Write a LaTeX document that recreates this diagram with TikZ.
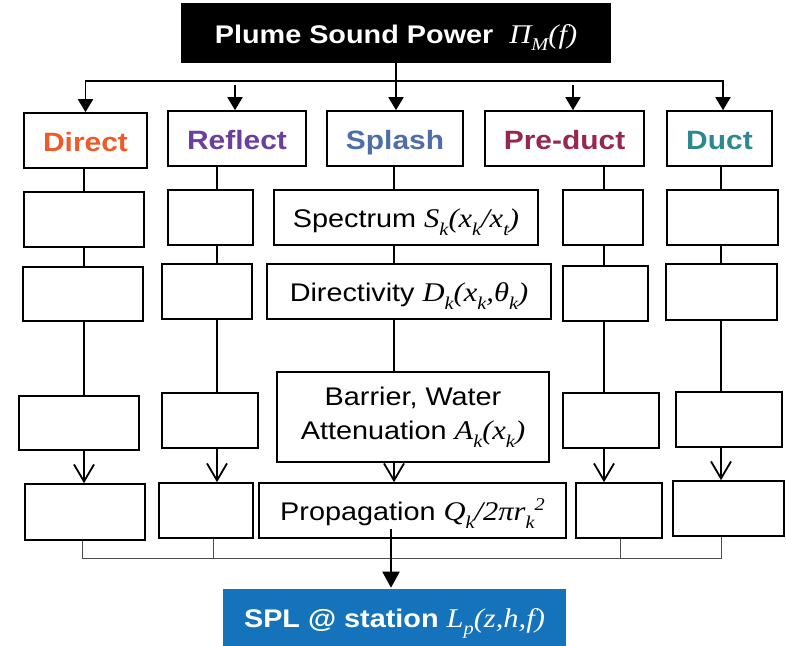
\documentclass[tikz,border=0pt]{standalone}
\usepackage{fontspec}
\setmainfont[FakeStretch=1.13]{Liberation Sans}
\newfontfamily\tms[FakeStretch=1.13]{Liberation Serif}
\usetikzlibrary{arrows.meta}
\definecolor{cdirect}{RGB}{240,90,40}
\definecolor{creflect}{RGB}{107,63,160}
\definecolor{csplash}{RGB}{79,110,168}
\definecolor{cpreduct}{RGB}{152,40,75}
\definecolor{cduct}{RGB}{44,137,143}
\definecolor{cblue}{RGB}{21,115,187}
\newcommand\mth[1]{{\tms\itshape #1}}
\newcommand\lo[1]{\raisebox{-0.28em}{\fontsize{18}{18}\selectfont #1}}
\newcommand\hi[1]{\raisebox{0.38em}{\fontsize{18}{18}\selectfont #1}}
\begin{document}
\begin{tikzpicture}[x=1pt,y=-1pt,
  box/.style={draw, line width=1.6pt, fill=white, inner sep=0pt, align=center,
    font=\fontsize{25.5}{34}\selectfont},
  one/.style={text height=22pt, text depth=2pt},
  lbl/.style={font=\fontsize{26.5}{32}\selectfont\bfseries, text height=24pt, text depth=2pt},
  conn/.style={line width=1.8pt},
  toparrow/.style={line width=1.8pt, -{Triangle[length=13pt,width=15pt]}},
  barb/.style={line width=1.8pt, -{Straight Barb[length=17pt,width=20pt]}},
  bigarrow/.style={line width=2pt, -{Triangle[length=16pt,width=17pt]}},
  gl/.style={line width=0.9pt, black!70}]
\useasboundingbox (0,0) rectangle (786,645);
% top
\node[box, one, fill=black, text=white, minimum width=428pt, minimum height=58pt,
  font=\fontsize{25.5}{30}\selectfont\bfseries] (top) at (396,33)
  {Plume Sound Power\ \ \mth{\mdseries\fontsize{27}{30}\selectfont Π\lo{M}(f)}};
% row 1
\node[box, lbl, text=cdirect,  minimum width=123pt, minimum height=55pt] (dir1) at (85.5,140.5) {Direct};
\node[box, lbl, text=creflect, minimum width=138pt, minimum height=55pt] (ref1) at (237,138.5) {Reflect};
\node[box, lbl, text=csplash,  minimum width=136pt, minimum height=55pt] (spl1) at (395,138.5) {Splash};
\node[box, lbl, text=cpreduct, minimum width=159pt, minimum height=55pt] (pre1) at (564.5,138.5) {Pre-duct};
\node[box, lbl, text=cduct,    minimum width=105pt, minimum height=55pt] (duc1) at (719.5,138.5) {Duct};
% row 2
\node[box, minimum width=120pt, minimum height=55pt] (dir2) at (84,219.5) {};
\node[box, minimum width=85pt,  minimum height=55pt] (ref2) at (210.5,217.5) {};
\node[box, one, minimum width=264pt, minimum height=55pt] (spl2) at (406,217.5)
  {Spectrum \mth{\fontsize{27}{32}\selectfont S\lo{k}(x\lo{k}/x\lo{t})}};
\node[box, minimum width=80pt,  minimum height=55pt] (pre2) at (603,217.5) {};
\node[box, minimum width=111pt, minimum height=55pt] (duc2) at (722.5,217.5) {};
% row 3
\node[box, minimum width=120pt, minimum height=54pt] (dir3) at (83,294) {};
\node[box, minimum width=90pt,  minimum height=55pt] (ref3) at (207,291.5) {};
\node[box, one, minimum width=284pt, minimum height=55pt] (spl3) at (409,291.5)
  {Directivity \mth{\fontsize{27}{32}\selectfont D\lo{k}(x\lo{k},θ\lo{k})}};
\node[box, minimum width=85pt,  minimum height=55pt] (pre3) at (605.5,293.5) {};
\node[box, minimum width=111pt, minimum height=56pt] (duc3) at (721.5,292) {};
% row 4
\node[box, minimum width=120pt, minimum height=54pt] (dir4) at (79,423) {};
\node[box, minimum width=96pt,  minimum height=55pt] (ref4) at (210,420.5) {};
\node[box, minimum width=272pt, minimum height=90pt] (spl4) at (413,417)
  {Barrier, Water\\Attenuation \mth{\fontsize{27}{32}\selectfont A\lo{k}(x\lo{k})}};
\node[box, minimum width=96pt,  minimum height=55pt] (pre4) at (611,420.5) {};
\node[box, minimum width=106pt, minimum height=55pt] (duc4) at (729,419.5) {};
% row 5
\node[box, minimum width=120pt, minimum height=56pt] (dir5) at (85,512) {};
\node[box, minimum width=94pt,  minimum height=55pt] (ref5) at (206,510.5) {};
\node[box, one, minimum width=307pt, minimum height=55pt] (spl5) at (412.5,510.5)
  {Propagation \mth{\fontsize{27}{32}\selectfont Q\lo{k}/2πr\lo{k}\hi{2}}};
\node[box, minimum width=86pt,  minimum height=55pt] (pre5) at (619,510.5) {};
\node[box, minimum width=111pt, minimum height=55pt] (duc5) at (728.5,508.5) {};
% result
\node[box, one, draw=none, fill=cblue, text=white, minimum width=343pt, minimum height=57pt,
  font=\fontsize{25.5}{30}\selectfont\bfseries] (spl) at (394.5,617)
  {SPL @ station \mth{\mdseries\fontsize{27}{30}\selectfont L\lo{p}(z,h,f)}};
% column coordinates
\coordinate (cD) at (84,0);
\coordinate (cR) at (217,0);
\coordinate (cS) at (394,0);
\coordinate (cP) at (604,0);
\coordinate (cU) at (721,0);
% top distribution
\coordinate (busR) at (723,81);
\coordinate (aR) at (235,81);
\coordinate (aP) at (573,81);
\draw[conn, line join=miter, {Triangle[length=13pt,width=15pt]}-{Triangle[length=13pt,width=15pt]}]
  (dir1.north) |- (busR) -- (busR |- duc1.north);
\draw[toparrow] (top.south) -- (top.south |- spl1.north);
\draw[toparrow] ([yshift=-4pt]aR) -- (aR |- ref1.north);
\draw[toparrow] ([yshift=-4pt]aP) -- (aP |- pre1.north);
% column connectors
\foreach \c/\n in {cD/dir, cR/ref, cS/spl, cP/pre, cU/duc}{
  \draw[conn] (\n1.south -| \c) -- (\n2.north -| \c);
  \draw[conn] (\n2.south -| \c) -- (\n3.north -| \c);
  \draw[conn] (\n3.south -| \c) -- (\n4.north -| \c);
  \draw[barb] (\n4.south -| \c) -- (\n5.north -| \c);
}
% collection lines
\coordinate (bL) at (82,558);
\coordinate (gR) at (213,558);
\coordinate (gP) at (620,558);
\coordinate (bR) at (721,558);
\draw[gl] (dir5.south -| bL) -- (bL) -- (bR) -- (duc5.south -| bR);
\draw[gl] (ref5.south -| gR) -- (gR);
\draw[gl] (pre5.south -| gP) -- (gP);
\coordinate (cB) at (391,0);
\draw[bigarrow] ([yshift=10pt]spl5.south -| cB) -- (spl.north -| cB);
\end{tikzpicture}
\end{document}
